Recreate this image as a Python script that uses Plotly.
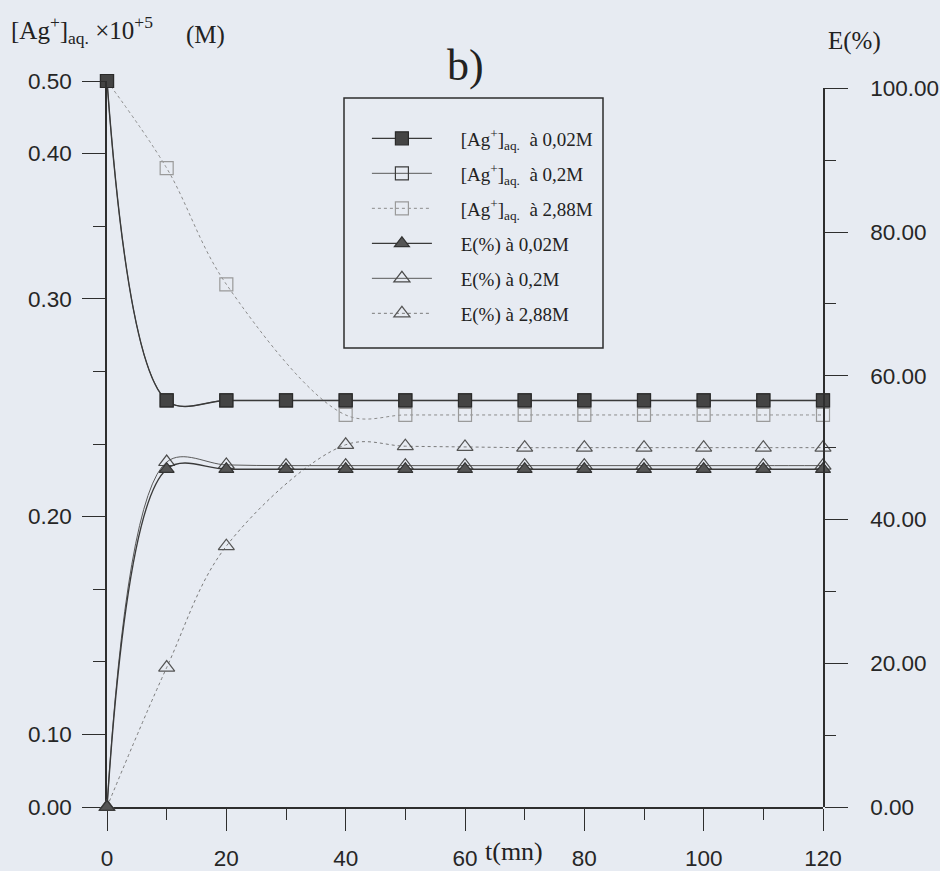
import plotly.graph_objects as go

# ---- data ----
t_full = [0, 10, 20, 30, 40, 50, 60, 70, 80, 90, 100, 110, 120]
t_288 = [0, 10, 20, 40, 50, 60, 70, 80, 90, 100, 110, 120]

ag_002 = [0.50, 0.28, 0.28, 0.28, 0.28, 0.28, 0.28, 0.28, 0.28, 0.28, 0.28, 0.28, 0.28]
ag_02 = [0.50, 0.28, 0.28, 0.28, 0.28, 0.28, 0.28, 0.28, 0.28, 0.28, 0.28, 0.28, 0.28]
ag_288 = [0.50, 0.44, 0.36, 0.27, 0.27, 0.27, 0.27, 0.27, 0.27, 0.27, 0.27, 0.27]

e_002 = [0, 47.0, 47.0, 47.0, 47.0, 47.0, 47.0, 47.0, 47.0, 47.0, 47.0, 47.0, 47.0]
e_02 = [0, 48.0, 47.6, 47.5, 47.5, 47.5, 47.5, 47.5, 47.5, 47.5, 47.5, 47.5, 47.5]
e_288 = [0, 19.4, 36.3, 50.4, 50.2, 50.1, 50.0, 50.0, 50.0, 50.0, 50.0, 50.0]

left_tickvals = [0, 0.05, 0.20, 0.35, 0.45, 0.50]
left_ticktext = ["0.00", "0.10", "0.20", "0.30", "0.40", "0.50"]
right_tickvals = [0, 20, 40, 60, 80, 100]
right_ticktext = ["0.00", "20.00", "40.00", "60.00", "80.00", "100.00"]
x_tickvals = [0, 20, 40, 60, 80, 100, 120]

PAD = "\u00a0" * 5
names = [
    PAD + "[Ag<sup>+</sup>]<sub>aq.</sub>\u00a0\u00a0à 0,02M",
    PAD + "[Ag<sup>+</sup>]<sub>aq.</sub>\u00a0\u00a0à 0,2M",
    PAD + "[Ag<sup>+</sup>]<sub>aq.</sub>\u00a0\u00a0à 2,88M",
    PAD + "E(%) à 0,02M",
    PAD + "E(%) à 0,2M",
    PAD + "E(%) à 2,88M",
]

BG = "#e7ebf2"
AX = "#2e2e2e"

W, H = 940, 871
L, R, T, B = 107, 117, 81, 64
top_right_px = 88.3
plot_h = H - T - B
y2_top = (H - B - top_right_px) / plot_h

fig = go.Figure()

def add(x, y, name, rank, yaxis, symbol, msize, mcolor, mline, lcolor, lwidth, dash):
    fig.add_trace(go.Scatter(
        x=x, y=y, name=name, legendrank=rank, legendgroup=str(rank),
        yaxis=yaxis, mode="lines+markers", cliponaxis=False,
        line=dict(color=lcolor, width=lwidth, dash=dash, shape="spline", smoothing=1.0),
        marker=dict(symbol=symbol, size=msize, color=mcolor,
                    line=dict(color=mline, width=1.2)),
    ))

# [Ag+] traces (left axis); the 0,02M series is drawn last so it sits on top
add(t_full, ag_02, names[1], 2, "y", "square-open", 13, "#3c3c3c", "#3c3c3c", "#5a5a5a", 1.0, "solid")
add(t_288, ag_288, names[2], 3, "y", "square-open", 13, "#9a9a9a", "#9a9a9a", "#8c8c8c", 1.0, "dot")
add(t_full, ag_002, names[0], 1, "y", "square", 13, "#444444", "#2a2a2a", "#3a3a3a", 1.4, "solid")
# E(%) traces (right axis)
add(t_full, e_02, names[4], 5, "y2", "triangle-up-open", 14, "#4a4a4a", "#4a4a4a", "#5a5a5a", 1.0, "solid")
add(t_288, e_288, names[5], 6, "y2", "triangle-up-open", 14, "#555555", "#555555", "#7a7a7a", 1.0, "dot")
add(t_full, e_002, names[3], 4, "y2", "triangle-up", 13, "#555555", "#333333", "#3a3a3a", 1.4, "solid")

tickfont = dict(family="Liberation Sans, Arial, sans-serif", size=22.5, color="#262626")

fig.update_layout(
    width=W, height=H,
    margin=dict(l=L, r=R, t=T, b=B, autoexpand=False),
    paper_bgcolor=BG, plot_bgcolor="rgba(0,0,0,0)",
    showlegend=True,
    legend=dict(
        x=0.363, y=0.947, xanchor="left", yanchor="top",
        bgcolor="rgba(0,0,0,0)", borderwidth=0,
        font=dict(family="Liberation Serif, Times New Roman, serif", size=19, color="#222222"),
        tracegroupgap=7.3, itemwidth=60, itemsizing="trace",
    ),
    xaxis=dict(
        range=[0, 120], showgrid=False, zeroline=False, automargin=False,
        showline=True, linecolor=AX, linewidth=1.5,
        tickmode="array", tickvals=x_tickvals,
        ticks="outside", ticklen=22, tickwidth=1.3, tickcolor=AX,
        minor=dict(dtick=10, tick0=0, ticks="outside", ticklen=11, tickwidth=1.2, tickcolor=AX),
        tickfont=tickfont, ticklabelstandoff=8,
    ),
    yaxis=dict(
        range=[0, 0.5], showgrid=False, zeroline=False, automargin=False,
        showline=True, linecolor=AX, linewidth=1.5,
        tickmode="array", tickvals=left_tickvals, ticktext=left_ticktext,
        ticks="outside", ticklen=23, tickwidth=1.3, tickcolor=AX,
        minor=dict(dtick=0.05, tick0=0, ticks="outside", ticklen=12, tickwidth=1.2, tickcolor=AX),
        tickfont=tickfont, ticklabelstandoff=6,
    ),
    yaxis2=dict(
        domain=[0, y2_top], anchor="x", side="right", automargin=False,
        range=[0, 100], showgrid=False, zeroline=False,
        showline=True, linecolor=AX, linewidth=1.5,
        tickmode="array", tickvals=right_tickvals, ticktext=right_ticktext,
        ticks="outside", ticklen=23, tickwidth=1.3, tickcolor=AX,
        minor=dict(dtick=10, tick0=0, ticks="outside", ticklen=11, tickwidth=1.2, tickcolor=AX),
        tickfont=tickfont, ticklabelstandoff=18,
    ),
)

def px_x(px):
    return (px - L) / (W - L - R)

def px_y(py):
    return (H - B - py) / plot_h

# legend frame
fig.add_shape(type="rect", xref="paper", yref="paper",
              x0=px_x(344), x1=px_x(603), y0=px_y(348), y1=px_y(98),
              line=dict(color="#2e2e2e", width=1.5), fillcolor="rgba(0,0,0,0)", layer="above")

serif = "Liberation Serif, Times New Roman, serif"
ink = "#222222"
fig.add_annotation(text="b)", xref="paper", yref="paper", x=px_x(465), y=px_y(66),
                   xanchor="center", yanchor="middle", showarrow=False,
                   font=dict(family=serif, size=44, color=ink))
fig.add_annotation(text="[Ag<sup>+</sup>]<sub>aq.</sub> ×10<sup>+5</sup>", xref="paper", yref="paper",
                   x=px_x(9), y=px_y(30), xanchor="left", yanchor="middle", showarrow=False,
                   font=dict(family=serif, size=25, color=ink))
fig.add_annotation(text="(M)", xref="paper", yref="paper",
                   x=px_x(184), y=px_y(35), xanchor="left", yanchor="middle", showarrow=False,
                   font=dict(family=serif, size=25, color=ink))
fig.add_annotation(text="E(%)", xref="paper", yref="paper",
                   x=px_x(826), y=px_y(41), xanchor="left", yanchor="middle", showarrow=False,
                   font=dict(family=serif, size=25, color=ink))
fig.add_annotation(text="t(mn)", xref="paper", yref="paper",
                   x=px_x(514), y=px_y(851), xanchor="center", yanchor="middle", showarrow=False,
                   font=dict(family=serif, size=26, color=ink))

fig.write_html("out.html", post_script="document.body.style.margin='0';",
               config={"displayModeBar": False})
